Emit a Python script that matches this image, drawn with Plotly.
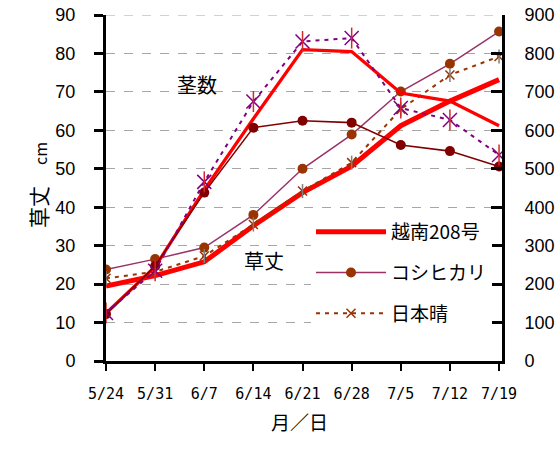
import plotly.graph_objects as go

dates = ["5/24", "5/31", "6/7", "6/14", "6/21", "6/28", "7/5", "7/12", "7/19"]

# 草丈 (cm) - left axis
etsunan_height = [19.5, 22.2, 25.8, 35.2, 43.8, 50.7, 61.2, 67.6, 73.2]
koshihikari_height = [23.8, 26.5, 29.5, 38.0, 50.0, 58.9, 70.1, 77.3, 85.7]
nipponbare_height = [21.5, 23.2, 27.3, 35.5, 44.2, 51.6, 65.5, 74.4, 79.2]

# 茎数 - right axis
etsunan_stems = [124, 245, 445, 630, 810, 805, 697, 676, 612]
koshihikari_stems = [122, 247, 438, 607, 625, 620, 562, 546, 506]
nipponbare_stems = [125, 235, 466, 675, 831, 840, 658, 627, 536]

names = ["越南208号", "コシヒカリ", "日本晴"]

fig = go.Figure()

# stems (right axis)
fig.add_trace(go.Scatter(x=dates, y=etsunan_stems, yaxis="y2", mode="lines",
                         line=dict(color="#FF0000", width=3.3), showlegend=False))
fig.add_trace(go.Scatter(x=dates, y=koshihikari_stems, yaxis="y2", mode="lines+markers",
                         line=dict(color="#800000", width=1.6),
                         marker=dict(symbol="circle", size=10, color="#800000"), showlegend=False))
fig.add_trace(go.Scatter(x=dates, y=nipponbare_stems, yaxis="y2", mode="lines+markers",
                         line=dict(color="#800080", width=2, dash="4px,5px"),
                         marker=dict(symbol="x-thin-open", size=14, line=dict(color="#800080", width=1.5)),
                         showlegend=False))
fig.add_trace(go.Scatter(x=dates, y=nipponbare_stems, yaxis="y2", mode="markers",
                         marker=dict(symbol="line-ns-open", size=15, line=dict(color="#800080", width=1.5)),
                         showlegend=False))

# heights (left axis)
fig.add_trace(go.Scatter(x=dates, y=etsunan_height, mode="lines", name=names[0],
                         line=dict(color="#FF0000", width=5), legendgroup="a"))
fig.add_trace(go.Scatter(x=dates, y=koshihikari_height, mode="lines+markers", name=names[1],
                         line=dict(color="#993366", width=1.5),
                         marker=dict(symbol="circle", size=10, color="#993300"), legendgroup="b"))
fig.add_trace(go.Scatter(x=dates, y=nipponbare_height, mode="lines+markers", name=names[2],
                         line=dict(color="#993300", width=2, dash="4px,5px"),
                         marker=dict(symbol="x-thin-open", size=9, line=dict(color="#993366", width=1.5)),
                         legendgroup="c"))
fig.add_trace(go.Scatter(x=dates, y=nipponbare_height, mode="markers",
                         marker=dict(symbol="line-ns-open", size=10, line=dict(color="#993366", width=1.5)),
                         showlegend=False, legendgroup="c"))

ML, MR, MT, MB = 106, 56, 15, 89
W, H = 558, 450
pw, ph = W - ML - MR, H - MT - MB


def px(xp):
    return (xp - ML) / pw


def py(yp):
    return (H - MB - yp) / ph


YMAX = 90

fig.update_layout(
    template="none",
    width=W, height=H,
    margin=dict(l=ML, r=MR, t=MT, b=MB, autoexpand=False),
    paper_bgcolor="white", plot_bgcolor="white",
    font=dict(family="Liberation Sans, Arial", size=18, color="black"),
    xaxis=dict(type="category", range=[0, 8.06], showline=True, linewidth=3, linecolor="black",
               ticks="outside", ticklen=7, tickwidth=2, tickcolor="black",
               showgrid=False, zeroline=False, automargin=False, ticklabeloverflow="allow",
               tickfont=dict(family="DejaVu Sans Mono", size=15), ticklabelstandoff=10),
    yaxis=dict(range=[0, YMAX], dtick=10, showline=True, linewidth=3,
               linecolor="black",
               ticks="outside", ticklen=9, tickwidth=3, tickcolor="black",
               showgrid=True, gridcolor="#a6a6a6", griddash="dash", gridwidth=1,
               zeroline=False, ticklabelstandoff=15, automargin=False, ticklabeloverflow="allow"),
    yaxis2=dict(range=[0, YMAX * 10], dtick=100, overlaying="y", side="right",
                showline=True, linewidth=3, linecolor="black",
                ticks="inside", ticklen=11, tickwidth=3, tickcolor="black",
                showgrid=False, zeroline=False, ticklabelstandoff=16, automargin=False,
                ticklabeloverflow="allow"),
    legend=dict(x=px(311), y=py(213), xanchor="left", yanchor="top",
                bgcolor="white", borderwidth=0, itemwidth=70,
                font=dict(family="Noto Sans CJK JP", size=19),
                tracegroupgap=13, traceorder="grouped"),
    showlegend=True,
)

# top gridline (at the axis maximum), which plotly omits at the plot edge
fig.add_shape(type="line", xref="x domain", x0=0, x1=1, yref="y", y0=YMAX, y1=YMAX,
              line=dict(color="#a6a6a6", width=1, dash="dash"), layer="below")

fig.add_annotation(text="茎数", x=1.85, y=71.8, xref="x", yref="y", showarrow=False,
                   font=dict(family="Noto Sans CJK JP", size=20))
fig.add_annotation(text="草丈", x=3.21, y=26.2, xref="x", yref="y", showarrow=False,
                   font=dict(family="Noto Sans CJK JP", size=20))
fig.add_annotation(text="草丈\u2002\u2002<span style='font-size:16px'>cm</span>", x=px(21), y=py(185),
                   xref="paper", yref="paper", showarrow=False, textangle=-90,
                   font=dict(family="Noto Sans CJK JP", size=21))
fig.add_annotation(text="月／日", x=px(299), y=py(437), xref="paper", yref="paper", showarrow=False,
                   font=dict(family="Noto Sans CJK JP", size=19))

fig.write_html("out.html", config={"displayModeBar": False},
               post_script="document.body.style.margin='0px';")
